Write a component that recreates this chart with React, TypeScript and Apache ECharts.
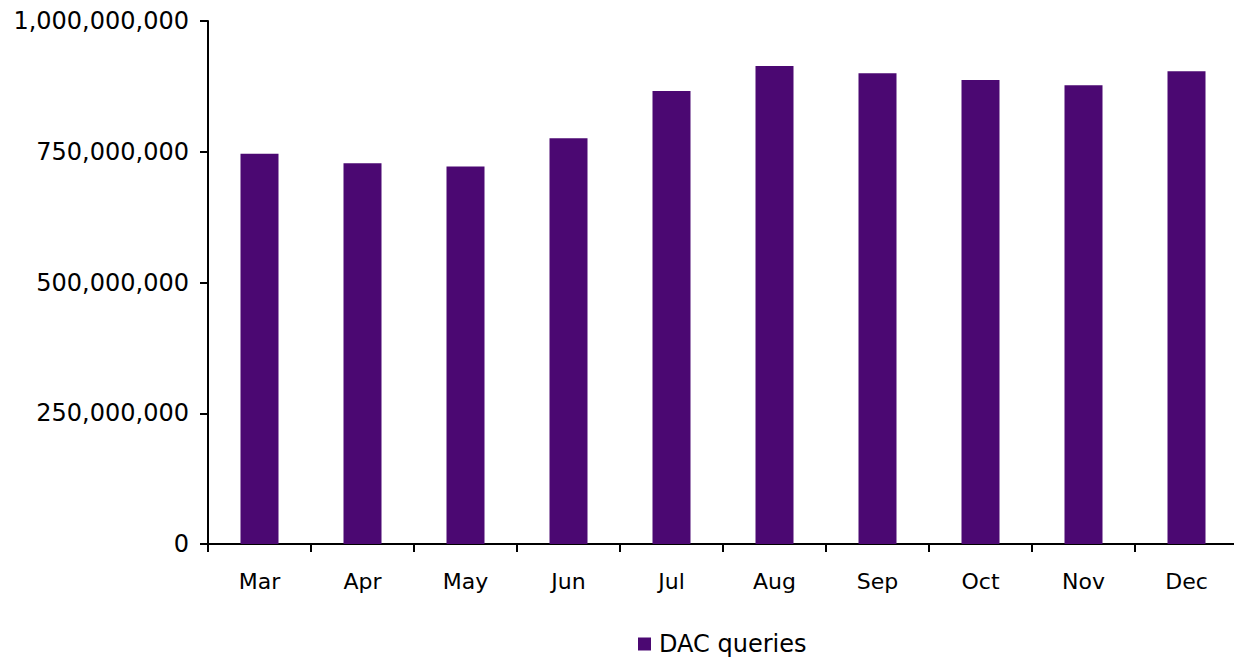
import React, { useEffect, useRef } from "react";
import * as echarts from "echarts";

const categories = ["Mar", "Apr", "May", "Jun", "Jul", "Aug", "Sep", "Oct", "Nov", "Dec"];
const dacQueries = [746e6, 728e6, 722e6, 776e6, 866e6, 914e6, 900e6, 887e6, 877e6, 904e6];
const seriesName = "DAC queries";
const yMin = 0;
const yMax = 1e9;
const yInterval = 2.5e8;

const FONT = "DejaVu Sans";

export default function App() {
  const ref = useRef<HTMLDivElement>(null);
  useEffect(() => {
    if (!ref.current) return;
    const chart = echarts.init(ref.current, null, { renderer: "svg" });
    chart.setOption({
      animation: false,
      backgroundColor: "#ffffff",
      textStyle: { fontFamily: FONT },
      grid: {
        left: 208,
        top: 21,
        width: 1030,
        height: 523,
        outerBoundsMode: "none",
        containLabel: false,
      },
      legend: {
        data: [seriesName],
        left: 638,
        top: 632,
        padding: 0,
        icon: "rect",
        itemWidth: 13,
        itemHeight: 13,
        itemGap: 10,
        textStyle: { fontFamily: FONT, fontSize: 24, color: "#000", padding: [0, 0, 0, 3] },
      },
      xAxis: {
        type: "category",
        data: categories,
        boundaryGap: true,
        axisLine: { show: true, lineStyle: { color: "#000", width: 2 } },
        axisTick: { show: true, length: 8, alignWithLabel: false, lineStyle: { color: "#000", width: 2 } },
        axisLabel: { fontFamily: FONT, fontSize: 22, color: "#000", margin: 26 },
        splitLine: { show: false },
      },
      yAxis: {
        type: "value",
        min: yMin,
        max: yMax,
        interval: yInterval,
        axisLine: { show: true, lineStyle: { color: "#000", width: 2 } },
        axisTick: { show: true, length: 8, lineStyle: { color: "#000", width: 2 } },
        axisLabel: {
          fontFamily: FONT,
          fontSize: 24,
          color: "#000",
          margin: 19,
          formatter: (v: number) => v.toLocaleString("en-US"),
        },
        splitLine: { show: false },
      },
      series: [
        {
          name: seriesName,
          type: "bar",
          data: dacQueries,
          barWidth: 38,
          itemStyle: { color: "#4B0872" },
        },
      ],
    });
    return () => chart.dispose();
  }, []);
  return (
    <div
      ref={ref}
      style={{ position: "absolute", left: 0, top: 0, width: 1234, height: 660 }}
    />
  );
}
